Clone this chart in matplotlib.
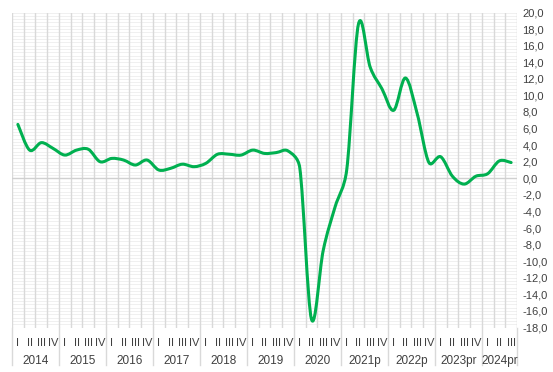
import numpy as np
import matplotlib.pyplot as plt
from matplotlib.path import Path
from matplotlib.patches import PathPatch
from matplotlib.ticker import MultipleLocator, FuncFormatter

# quarterly growth values, 2014 I .. 2024 III
years = ['2014', '2015', '2016', '2017', '2018', '2019', '2020',
         '2021p', '2022p', '2023pr', '2024pr']
quarters = ['I', 'II', 'III', 'IV']
values = [6.5, 3.4, 4.3, 3.6, 2.8, 3.4, 3.5, 2.0,
          2.4, 2.2, 1.6, 2.2, 1.0, 1.2, 1.7, 1.4,
          1.8, 2.9, 2.9, 2.8, 3.4, 3.0, 3.1, 3.3,
          1.3, -17.0, -8.7, -3.5, 1.0, 18.6, 13.4, 10.8,
          8.2, 12.1, 7.8, 1.9, 2.6, 0.25, -0.7, 0.25,
          0.55, 2.1, 1.9]

n = len(values)
x = np.arange(n)
y = np.array(values)

plt.rcParams['font.family'] = ['Liberation Sans Narrow', 'Liberation Sans', 'DejaVu Sans']

fig = plt.figure(figsize=(5.53, 3.72), dpi=100)
ax = fig.add_axes([12/553, 44.5/372, 505/553, 315/372])

ax.set_xlim(-0.5, n - 0.5)
ax.set_ylim(-18, 20)

# light grid: minor horizontal lines, vertical lines between quarters
ax.yaxis.set_major_locator(MultipleLocator(2))
ax.yaxis.set_minor_locator(MultipleLocator(0.4))
ax.grid(which='minor', axis='y', color='#f0f0f0', lw=0.7)
ax.grid(which='major', axis='y', color='#f0f0f0', lw=0.7)
for b in np.arange(-0.5, n, 1.0):
    ax.axvline(b, color='#d9d9d9', lw=1.0, zorder=1)
ax.axhline(0, color='#d0d0d0', lw=1.0, zorder=1)
ax.set_axisbelow(True)

# smoothed line: catmull-rom style bezier in pixel units,
# control arms capped at half the segment length so it doesn't overshoot
sx, sy = 11.74, 8.28
pts = np.column_stack([x * sx, y * sy])
tang = np.zeros_like(pts)
for i in range(n):
    tang[i] = (pts[min(i + 1, n - 1)] - pts[max(i - 1, 0)]) / 6

def arm(t, seg):
    m = np.hypot(*t)
    cap = 0.5 * seg
    return t if m <= cap else t * cap / m

verts = [pts[0]]
codes = [Path.MOVETO]
for i in range(n - 1):
    seg = np.hypot(*(pts[i + 1] - pts[i]))
    verts += [pts[i] + arm(tang[i], seg), pts[i + 1] - arm(tang[i + 1], seg), pts[i + 1]]
    codes += [Path.CURVE4] * 3
verts = np.array(verts) / [sx, sy]
ax.add_patch(PathPatch(Path(verts, codes), fill=False, edgecolor='#00b050',
                       lw=2.2, capstyle='round', joinstyle='round', zorder=3))

# right y axis labels
ax.yaxis.tick_right()
ax.yaxis.set_major_formatter(FuncFormatter(lambda v, p: f'{v:.1f}'.replace('.', ',')))
ax.tick_params(axis='y', which='both', length=0, labelsize=8, colors='#404040', pad=4)
ax.set_xticks([])
for s in ax.spines.values():
    s.set_visible(False)

# two-level category axis
for i in range(n):
    ax.text(i, -0.05, quarters[i % 4], transform=ax.get_xaxis_transform(),
            ha='center', va='center', fontsize=8, color='#404040')
for k, yr in enumerate(years):
    start = 4 * k
    end = min(4 * k + 4, n)
    ax.text((start + end - 1) / 2, -0.105, yr, transform=ax.get_xaxis_transform(),
            ha='center', va='center', fontsize=8.5, color='#404040')
    ax.plot([start - 0.5, start - 0.5], [0, -0.12], transform=ax.get_xaxis_transform(),
            color='#d9d9d9', lw=1.0, clip_on=False)
ax.plot([n - 0.5, n - 0.5], [0, -0.12], transform=ax.get_xaxis_transform(),
        color='#d9d9d9', lw=1.0, clip_on=False)

fig.savefig('out.png', dpi=100)
